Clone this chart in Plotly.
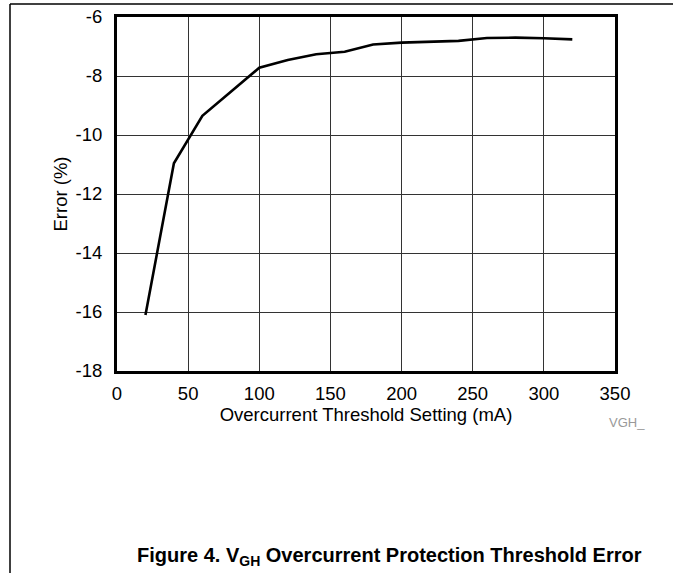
import plotly.graph_objects as go

threshold_ma = [20, 40, 60, 80, 100, 120, 140, 160, 180, 200, 220, 240, 260, 280, 300, 320]
error_pct = [-16.1, -10.96, -9.35, -8.52, -7.72, -7.46, -7.26, -7.18, -6.93, -6.87, -6.83, -6.81, -6.71, -6.70, -6.72, -6.76]

x_ticks = [0, 50, 100, 150, 200, 250, 300, 350]
y_ticks = [-18, -16, -14, -12, -10, -8, -6]

W, H = 673, 573
L, R, T, B = 117, 615, 17, 371


def px_x(p):
    return (p - L) / (R - L)


def px_y(p):
    return (B - p) / (B - T)


fig = go.Figure()
fig.add_trace(go.Scatter(x=threshold_ma, y=error_pct, mode="lines",
                         line=dict(color="black", width=2.6), showlegend=False, hoverinfo="skip"))

font = "Liberation Sans, Arial, sans-serif"
fs = 18.5
fig.update_layout(
    template="none",
    width=W, height=H,
    margin=dict(l=L, r=W - R, t=T, b=H - B, pad=0, autoexpand=False),
    paper_bgcolor="white", plot_bgcolor="white",
    font=dict(family=font, size=fs, color="black"),
    xaxis=dict(range=[0, 350], tickvals=x_ticks, ticktext=[str(v) for v in x_ticks],
               showgrid=True, gridcolor="#333333", gridwidth=1, automargin=False,
               showline=True, linecolor="black", linewidth=3, mirror=True, zeroline=False,
               ticks="", ticklabelstandoff=4, tickfont=dict(size=fs),
               title=dict(text="Overcurrent Threshold Setting (mA)", standoff=0, font=dict(size=fs))),
    yaxis=dict(range=[-18, -6], tickvals=y_ticks, ticktext=[str(v) for v in y_ticks],
               showgrid=True, gridcolor="#333333", gridwidth=1, automargin=False,
               showline=True, linecolor="black", linewidth=3, mirror=True, zeroline=False,
               ticks="", ticklabelstandoff=8, tickfont=dict(size=fs),
               title=dict(text="Error (%)", standoff=4, font=dict(size=fs))),
    shapes=[
        dict(type="line", xref="paper", yref="paper",
             x0=px_x(10), x1=px_x(680), y0=px_y(4), y1=px_y(4),
             line=dict(color="black", width=1.5)),
        dict(type="line", xref="paper", yref="paper",
             x0=px_x(10), x1=px_x(10), y0=px_y(4), y1=px_y(580),
             line=dict(color="black", width=1.5)),
    ],
    annotations=[
        dict(text="VGH_", xref="paper", yref="paper", x=px_x(607), y=px_y(422),
             xanchor="left", yanchor="middle", showarrow=False,
             font=dict(size=13, color="#999999", family=font)),
        dict(text="<b>Figure 4. V<sub>GH</sub> Overcurrent Protection Threshold Error</b>",
             xref="paper", yref="paper", x=px_x(389), y=px_y(556),
             xanchor="center", yanchor="middle", showarrow=False,
             font=dict(size=20, color="black", family=font)),
    ],
)

fig.write_html("out.html", config={"displayModeBar": False},
               post_script="document.body.style.margin='0';")
